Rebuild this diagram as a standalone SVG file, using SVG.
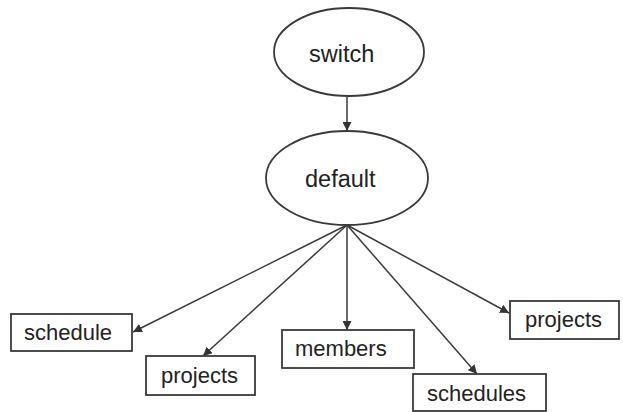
<svg xmlns="http://www.w3.org/2000/svg" width="623" height="412" viewBox="0 0 623 412">
  <defs>
    <marker id="arrow" viewBox="0 0 10 10" refX="10" refY="5" markerWidth="9" markerHeight="9" markerUnits="userSpaceOnUse" orient="auto">
      <path d="M0,0 L10,5 L0,10 z" fill="#333"/>
    </marker>
    <style>
      .shape { fill: #fff; stroke: #3a3a3a; stroke-width: 1.8; }
      .label { font-family: "Liberation Sans", Arial, sans-serif; fill: #222; }
      .big { font-size: 23.5px; }
      .small { font-size: 22px; }
      .edge { stroke: #3a3a3a; stroke-width: 1.5; fill: none; marker-end: url(#arrow); }
    </style>
  </defs>
  <rect width="623" height="412" fill="#fff"/>

  <g id="connectors">
    <line class="edge" x1="347" y1="97" x2="347" y2="131"/>
    <line class="edge" x1="347" y1="225" x2="133" y2="332"/>
    <line class="edge" x1="347" y1="225" x2="203" y2="356"/>
    <line class="edge" x1="347" y1="225" x2="347" y2="330"/>
    <line class="edge" x1="347" y1="225" x2="477" y2="374"/>
    <line class="edge" x1="347" y1="225" x2="509" y2="313"/>
  </g>

  <g id="switch">
    <ellipse class="shape" cx="349" cy="52" rx="75" ry="44"/>
    <text class="label big" x="309" y="62">switch</text>
  </g>

  <g id="default">
    <ellipse class="shape" cx="347" cy="178" rx="81" ry="47"/>
    <text class="label big" x="305" y="187">default</text>
  </g>

  <g id="schedule">
    <rect class="shape" x="11" y="314" width="121" height="37"/>
    <text class="label small" x="24" y="340">schedule</text>
  </g>

  <g id="projects-left">
    <rect class="shape" x="146" y="356" width="109" height="39"/>
    <text class="label small" x="161" y="383">projects</text>
  </g>

  <g id="members">
    <rect class="shape" x="282" y="330" width="132" height="38"/>
    <text class="label small" x="295" y="356">members</text>
  </g>

  <g id="schedules">
    <rect class="shape" x="413" y="374" width="133" height="37"/>
    <text class="label small" x="427" y="401">schedules</text>
  </g>

  <g id="projects-right">
    <rect class="shape" x="510" y="301" width="109" height="38"/>
    <text class="label small" x="525" y="327">projects</text>
  </g>
</svg>
